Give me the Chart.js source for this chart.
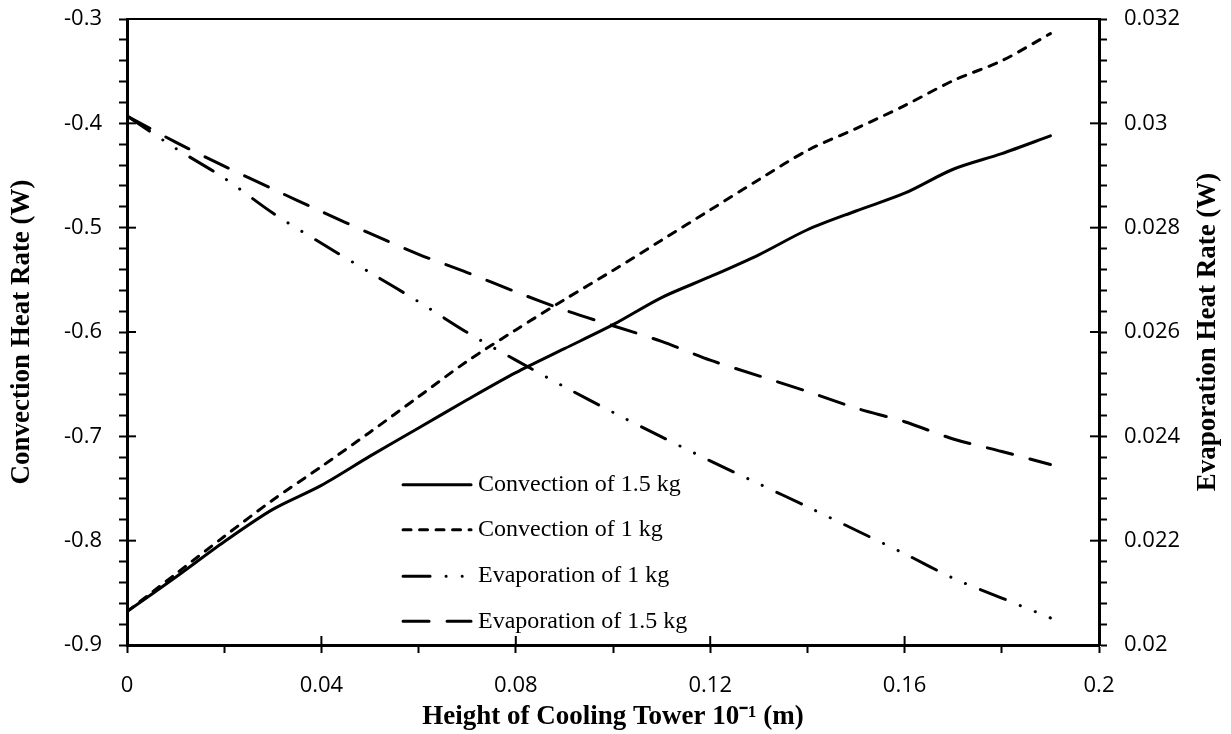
<!DOCTYPE html>
<html>
<head>
<meta charset="utf-8">
<script src="https://cdn.jsdelivr.net/npm/chart.js@4.4.1/dist/chart.umd.min.js"></script>
<style>
  html, body { margin: 0; padding: 0; background: #fff; }
</style>
</head>
<body>
<canvas id="chart" width="1231" height="734"></canvas>
<script>
// tower height (x axis)
const heights = [0, 0.01, 0.02, 0.03, 0.04, 0.05, 0.06, 0.07, 0.08, 0.09,
                 0.10, 0.11, 0.12, 0.13, 0.14, 0.15, 0.16, 0.17, 0.18, 0.19];

// left axis (W)
const conv15 = [-0.868, -0.835, -0.801, -0.770, -0.747, -0.719, -0.692, -0.665, -0.639, -0.616,
                -0.593, -0.567, -0.547, -0.526, -0.502, -0.484, -0.467, -0.444, -0.429, -0.412];
const conv1 = [-0.868, -0.832, -0.796, -0.761, -0.729, -0.696, -0.662, -0.628, -0.598, -0.569,
               -0.541, -0.512, -0.483, -0.454, -0.426, -0.405, -0.383, -0.359, -0.340, -0.314];

// right axis (W)
const evap1 = [0.03014, 0.02952, 0.02895, 0.02828, 0.0277, 0.02714, 0.02658, 0.02599, 0.02546, 0.02495,
               0.02446, 0.02399, 0.02353, 0.02309, 0.02265, 0.0222, 0.02175, 0.02128, 0.0209, 0.02052];
const evap15 = [0.03014, 0.02964, 0.02918, 0.02874, 0.02831, 0.02789, 0.02749, 0.02714, 0.02677, 0.02642,
                0.02612, 0.02582, 0.02546, 0.02516, 0.02486, 0.02454, 0.02428, 0.02395, 0.02371, 0.02346];

const xTitle = 'Height of Cooling Tower 10\u207B\u00B9 (m)';
const yTitle = 'Convection Heat Rate (W)';
const y1Title = 'Evaporation Heat Rate (W)';

const pts = (ys) => heights.map((h, i) => ({ x: h, y: ys[i] }));

const tickFont = { family: '"Open Sans", sans-serif', size: 22 };
const titleFont = { family: '"Liberation Serif", "Times New Roman", serif', size: 27, weight: 'bold' };

// label only every n-th step (minor ticks stay unlabelled)
function isMajor(v, major) {
  const r = v / major;
  return Math.abs(r - Math.round(r)) < 1e-6;
}
function fmt(v) {
  return String(parseFloat(v.toFixed(4)));
}

const majors = { x: 0.04, y: 0.1, y1: 0.002 };

// inner half of the major ticks, thin top border, right title read bottom-up
const frame = {
  id: 'frame',
  afterDatasetsDraw(chart) {
    const { ctx, chartArea: a } = chart;
    ctx.save();
    ctx.strokeStyle = '#000';
    ctx.lineWidth = 2;
    ctx.beginPath();
    ctx.moveTo(a.left, a.top);
    ctx.lineTo(a.right, a.top);
    ctx.stroke();
    for (const id of ['x', 'y', 'y1']) {
      const s = chart.scales[id];
      s.ticks.forEach(t => {
        if (!isMajor(t.value, majors[id])) return;
        const p = s.getPixelForValue(t.value);
        ctx.beginPath();
        if (id === 'x') { ctx.moveTo(p, a.bottom); ctx.lineTo(p, a.bottom - 9); }
        else if (id === 'y') { ctx.moveTo(a.left, p); ctx.lineTo(a.left + 9, p); }
        else { ctx.moveTo(a.right, p); ctx.lineTo(a.right - 9, p); }
        ctx.stroke();
      });
    }
    const s1 = chart.scales.y1;
    ctx.translate(s1.right - 23, (a.top + a.bottom) / 2);
    ctx.rotate(-Math.PI / 2);
    ctx.font = 'bold 27px "Liberation Serif", "Times New Roman", serif';
    ctx.fillStyle = '#000';
    ctx.textAlign = 'center';
    ctx.textBaseline = 'middle';
    ctx.fillText(y1Title, 0, 0);
    ctx.restore();
  }
};

// legend inside the plot, below the curves
const legendBox = {
  id: 'legendBox',
  afterDatasetsDraw(chart) {
    const { ctx, chartArea: a } = chart;
    const x0 = a.left + 0.284 * (a.right - a.left);
    const x1 = x0 + 68;
    const rowY = [0.744, 0.816, 0.89, 0.962].map(f => a.top + f * (a.bottom - a.top));
    ctx.save();
    chart.data.datasets.forEach((ds, i) => {
      const y = rowY[i];
      ctx.strokeStyle = ds.borderColor;
      ctx.lineWidth = ds.borderWidth;
      ctx.lineCap = 'round';
      ctx.setLineDash(ds.borderDash || []);
      ctx.beginPath();
      ctx.moveTo(x0, y);
      ctx.lineTo(x1, y);
      ctx.stroke();
      ctx.setLineDash([]);
      ctx.fillStyle = '#000';
      ctx.font = '24px "Liberation Serif", "Times New Roman", serif';
      ctx.textBaseline = 'middle';
      ctx.fillText(ds.label, x1 + 7, y);
    });
    ctx.restore();
  }
};

const lineDefaults = {
  borderColor: '#000',
  borderWidth: 3,
  pointRadius: 0,
  tension: 0.3,
  borderCapStyle: 'round',
  fill: false
};

// fixed box sizes so the plot area lands where the original has it
const fixY = (w) => (s) => { s.width = w; s.paddingTop = 0; s.paddingBottom = 0; };

new Chart(document.getElementById('chart'), {
  type: 'line',
  data: {
    datasets: [
      { ...lineDefaults, label: 'Convection of 1.5 kg', data: pts(conv15), yAxisID: 'y' },
      { ...lineDefaults, label: 'Convection of 1 kg', data: pts(conv1), yAxisID: 'y', borderDash: [8, 8.5] },
      { ...lineDefaults, label: 'Evaporation of 1 kg', data: pts(evap1), yAxisID: 'y1', borderDash: [27, 16, 0.1, 16, 0.1, 16] },
      { ...lineDefaults, label: 'Evaporation of 1.5 kg', data: pts(evap15), yAxisID: 'y1', borderDash: [26, 18] }
    ]
  },
  options: {
    responsive: false,
    animation: false,
    layout: { padding: { top: 19 } },
    plugins: {
      legend: { display: false },
      tooltip: { enabled: false }
    },
    scales: {
      x: {
        type: 'linear',
        min: 0,
        max: 0.2,
        afterFit: (s) => { s.height = 89; s.paddingLeft = 0; s.paddingRight = 0; },
        ticks: {
          stepSize: 0.02,
          autoSkip: false,
          maxRotation: 0,
          padding: 20,
          color: '#000',
          font: tickFont,
          callback: (v) => isMajor(v, majors.x) ? fmt(v) : ''
        },
        grid: { drawOnChartArea: false, tickLength: 8, tickWidth: 2, tickColor: '#000' },
        border: { display: true, width: 3, color: '#000' },
        title: { display: true, text: xTitle, color: '#000', font: titleFont, padding: { top: 0, bottom: 1 } }
      },
      y: {
        position: 'left',
        min: -0.9,
        max: -0.3,
        afterFit: fixY(127),
        ticks: {
          stepSize: 0.02,
          autoSkip: false,
          padding: 17,
          color: '#000',
          font: tickFont,
          callback: (v) => isMajor(v, majors.y) ? fmt(v) : ''
        },
        grid: { drawOnChartArea: false, tickLength: 8, tickWidth: 2, tickColor: '#000' },
        border: { display: true, width: 3, color: '#000' },
        title: { display: true, text: yTitle, color: '#000', font: titleFont, padding: { top: 6, bottom: 0 } }
      },
      y1: {
        position: 'right',
        min: 0.02,
        max: 0.032,
        afterFit: fixY(132),
        ticks: {
          stepSize: 0.0004,
          autoSkip: false,
          padding: 17,
          color: '#000',
          font: tickFont,
          callback: (v) => isMajor(v, majors.y1) ? fmt(v) : ''
        },
        grid: { drawOnChartArea: false, tickLength: 8, tickWidth: 2, tickColor: '#000' },
        border: { display: true, width: 3, color: '#000' },
        title: { display: false }
      }
    }
  },
  plugins: [frame, legendBox]
});
</script>
</body>
</html>
